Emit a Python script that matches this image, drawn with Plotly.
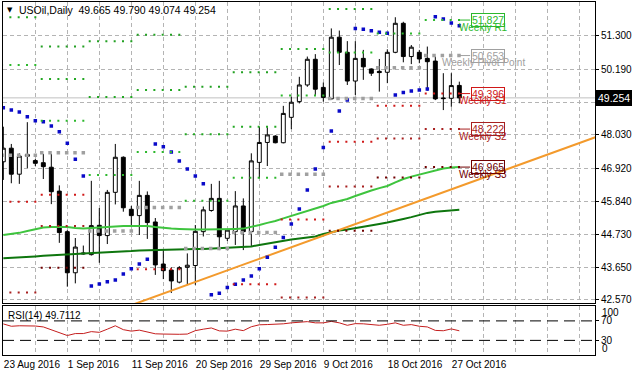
import plotly.graph_objects as go
import pandas as pd

# ---------------- data ----------------
# daily bars (this broker prints Sunday bars, no Saturday bars)
bar_dates = [d for d in pd.date_range("2016-08-23", "2016-10-28", freq="D") if d.weekday() != 5]

opens = [47.14, 47.59, 46.73, 47.38, 47.18, 47.11, 46.96, 46.17, 44.83, 43.47,
         44.09, 44.07, 45.04, 44.70, 46.13, 47.29, 45.57, 45.36, 46.03, 45.15,
         43.76, 43.56, 43.16, 43.65, 43.71, 44.83, 45.53, 45.93, 44.61, 44.83,
         45.68, 44.83, 47.12, 47.78, 47.99, 47.77, 48.61, 49.13, 49.68, 50.53,
         49.60, 49.22, 51.26, 50.76, 49.81, 50.56, 50.21, 50.13, 50.10, 50.76,
         51.72, 50.62, 50.76, 50.56, 50.47, 49.25, 49.24, 49.665]
highs = [48.30, 47.73, 47.42, 48.45, 47.23, 47.40, 47.40, 46.36, 44.88, 44.62,
         44.37, 46.51, 45.61, 46.21, 47.73, 47.32, 45.68, 46.51, 46.16, 45.28,
         44.22, 43.65, 43.69, 44.11, 45.05, 45.66, 46.41, 46.51, 44.92, 46.17,
         45.93, 47.42, 48.30, 48.28, 48.02, 48.99, 49.29, 49.95, 50.62, 50.70,
         49.76, 51.55, 51.48, 51.13, 51.13, 50.84, 50.23, 50.54, 50.86, 51.92,
         51.77, 51.00, 50.84, 50.95, 50.62, 50.07, 50.07, 49.790]
lows = [46.54, 46.43, 46.41, 46.93, 47.00, 46.57, 45.74, 44.46, 43.01, 43.12,
        44.07, 44.04, 43.80, 44.42, 45.73, 45.49, 45.05, 44.72, 44.59, 43.40,
        43.26, 42.80, 43.12, 43.07, 43.07, 44.67, 45.49, 44.22, 44.52, 44.39,
        44.22, 44.33, 46.59, 47.00, 47.75, 47.75, 48.22, 49.07, 49.62, 49.35,
        49.13, 49.21, 50.34, 49.68, 49.35, 49.85, 49.98, 49.46, 49.74, 50.73,
        50.43, 50.37, 50.40, 49.49, 49.18, 48.85, 48.96, 49.074]
closes = [47.59, 46.73, 47.33, 47.32, 47.09, 46.98, 46.15, 44.80, 43.47, 44.32,
          44.12, 45.03, 44.70, 46.13, 47.29, 45.62, 45.36, 46.03, 45.13, 43.73,
          43.54, 43.20, 43.64, 43.72, 44.84, 45.55, 45.93, 44.66, 44.88, 45.68,
          44.83, 47.17, 47.78, 48.03, 47.77, 48.74, 49.11, 49.68, 50.53, 49.54,
          49.27, 51.26, 50.76, 49.81, 50.56, 50.28, 50.07, 50.09, 50.76, 51.72,
          50.62, 50.93, 50.54, 50.45, 49.22, 49.23, 49.66, 49.254]

sar = [48.93, 48.85, 48.79, 48.63, 48.50, 48.46, 48.32, 48.13, 47.75, 47.22,
       46.67, 43.03, 43.10, 43.17, 43.23, 43.43, 43.60, 43.76, 43.92, 47.73,
       47.64, 47.46, 47.17, 46.90, 46.67, 46.41, 42.74, 42.79, 42.98, 43.09,
       43.23, 43.36, 43.60, 43.98, 44.31, 44.64, 45.08, 45.58, 46.21, 46.90,
       47.61, 48.16, 48.82, 49.18, 51.55, 51.52, 51.47, 51.42, 51.39, 49.35,
       49.43, 49.48, 49.51, 49.55, 51.94, 51.86, 51.73, 51.64]

ma_fast = [44.72, 44.75, 44.79, 44.85, 44.92, 44.97, 44.98, 44.98, 44.98, 44.95,
           44.93, 44.95, 44.97, 44.98, 45.00, 45.02, 45.02, 45.02, 45.02, 44.98,
           44.95, 44.93, 44.92, 44.90, 44.90, 44.90, 44.90, 44.92, 44.92, 44.92,
           44.93, 44.98, 45.05, 45.12, 45.18, 45.27, 45.35, 45.43, 45.51, 45.58,
           45.68, 45.78, 45.84, 45.91, 46.01, 46.11, 46.19, 46.27, 46.34, 46.46,
           46.57, 46.65, 46.72, 46.80, 46.87, 46.92, 46.95, 46.97]
ma_slow = [43.95, 43.96, 43.98, 43.99, 44.01, 44.03, 44.04, 44.06, 44.07, 44.09,
           44.11, 44.12, 44.13, 44.14, 44.16, 44.17, 44.19, 44.21, 44.22, 44.22,
           44.23, 44.24, 44.25, 44.25, 44.26, 44.26, 44.27, 44.28, 44.29, 44.30,
           44.31, 44.34, 44.39, 44.44, 44.49, 44.54, 44.57, 44.60, 44.64, 44.67,
           44.75, 44.82, 44.87, 44.90, 44.94, 44.98, 45.03, 45.08, 45.13, 45.18,
           45.25, 45.31, 45.38, 45.45, 45.49, 45.51, 45.53, 45.55]

rsi = [63.8, 59.0, 60.0, 60.0, 59.5, 57.6, 52.0, 46.0, 40.0, 44.0,
       44.0, 48.0, 46.5, 53.0, 60.0, 52.0, 49.0, 51.0, 46.5, 43.5,
       43.0, 42.0, 42.5, 43.0, 50.0, 53.0, 55.5, 49.5, 49.0, 53.0,
       50.0, 58.0, 62.0, 62.5, 62.5, 64.0, 66.0, 68.0, 68.5, 66.0,
       66.0, 69.0, 66.0, 61.0, 64.4, 64.0, 62.0, 61.0, 63.0, 66.0,
       61.0, 62.4, 59.0, 57.6, 50.5, 49.8, 53.5, 49.7112]

# orange trend line (two anchor points: bar index, price)
trend_x = [16, 74]
trend_y = [42.40, 47.95]

# weekly pivot levels (one value per week, None = outside the visible range)
pivot_R3 = [None, 50.95, 51.13, 51.34, 49.62, 50.10, None, None, None, None]
pivot_R2 = [51.92, 49.88, 49.28, 49.51, 48.05, 48.30, 50.87, 52.19, None, None]
pivot_R1 = [50.34, 48.50, 46.70, 47.46, 45.85, 46.61, 49.33, 50.75, 51.38, 51.827]
pivot_PP = [47.36, 47.44, 44.85, 45.63, 44.27, 44.80, 46.73, 49.23, 50.25, 50.653]
pivot_S1 = [45.82, 46.05, None, 43.59, None, 43.09, 45.23, 47.80, 48.99, 49.396]
pivot_S2 = [42.82, 45.02, None, None, None, None, 42.65, 46.32, 47.91, 48.222]
pivot_S3 = [None, 43.64, None, None, None, None, None, 44.86, 46.62, 46.965]

price_ticks = [51.300, 50.190, 49.110, 48.030, 46.920, 45.840, 44.730, 43.650, 42.570]
rsi_levels = [70, 30]
rsi_period = 14
symbol = "USOil,Daily"

# ---------------- derived ----------------
n = len(bar_dates)
xi = list(range(n))
sundays = [i for i, d in enumerate(bar_dates) if d.weekday() == 6]
week_start = [sundays[0] - 6] + sundays
date_text = [f"{d.day} {d.strftime('%b %Y')}" for d in bar_dates]

FONT = "Liberation Sans, Arial, sans-serif"
GRID = "#b4b4b4"
XR = [-0.04, 73.96]

fig = go.Figure()

fig.add_trace(go.Candlestick(
    x=xi, open=opens, high=highs, low=lows, close=closes,
    increasing=dict(line=dict(color="black", width=1), fillcolor="white"),
    decreasing=dict(line=dict(color="black", width=1), fillcolor="black"),
    whiskerwidth=0, showlegend=False, hoverinfo="skip", xaxis="x", yaxis="y"))

fig.add_trace(go.Scatter(x=xi, y=ma_fast, mode="lines", line=dict(color="#3ec43e", width=2),
                         showlegend=False, hoverinfo="skip"))
fig.add_trace(go.Scatter(x=xi, y=ma_slow, mode="lines", line=dict(color="#0e760e", width=2),
                         showlegend=False, hoverinfo="skip"))
fig.add_trace(go.Scatter(x=trend_x, y=trend_y, mode="lines", line=dict(color="#f39a2c", width=2),
                         showlegend=False, hoverinfo="skip"))
fig.add_trace(go.Scatter(x=xi, y=sar, mode="markers",
                         marker=dict(symbol="square", size=3.5, color="#0a0ac8", line=dict(width=0)),
                         showlegend=False, hoverinfo="skip"))

levels = [
    (pivot_R3, "#22a022", 2, None),
    (pivot_R2, "#22a822", 2, None),
    (pivot_R1, "#2cb82c", 2, "Weekly R1"),
    (pivot_PP, "#a0a0a0", 3.5, "Weekly Pivot Point"),
    (pivot_S1, "#d01818", 2, "Weekly S1"),
    (pivot_S2, "#a82020", 2, "Weekly S2"),
    (pivot_S3, "#700000", 2, "Weekly S3"),
]
last_week = len(week_start) - 1
for vals, col, sz, name in levels:
    px, py = [], []
    for w, v in enumerate(vals):
        if v is None:
            continue
        ndots = 5 if w == last_week else 6
        for k in range(ndots):
            px.append(week_start[w] + 0.8 + k * 1.04)
            py.append(v)
    fig.add_trace(go.Scatter(x=px, y=py, mode="markers",
                             marker=dict(symbol="square", size=sz, color=col, line=dict(width=0)),
                             showlegend=False, hoverinfo="skip"))
    v = vals[last_week]
    if name is not None and v is not None:
        fig.add_trace(go.Scatter(x=[n - 1, n + 0.35], y=[v, v], mode="lines",
                                 line=dict(color=col, width=1), showlegend=False, hoverinfo="skip"))
        fig.add_annotation(x=n + 2.6, y=v, xref="x", yref="y", text=f"{v:.3f}", showarrow=False,
                           font=dict(family=FONT, size=10.5, color=col), bordercolor=col,
                           borderwidth=1, borderpad=0, bgcolor="rgba(255,255,255,0)",
                           xanchor="center", yanchor="middle")
        fig.add_annotation(x=n + 2.0, y=v, xref="x", yref="y", text=name, showarrow=False,
                           font=dict(family=FONT, size=10, color=col), xanchor="center",
                           yanchor="middle", yshift=-7)

# RSI
fig.add_trace(go.Scatter(x=xi, y=rsi, mode="lines", line=dict(color="#c41e1e", width=1),
                         xaxis="x2", yaxis="y2", showlegend=False, hoverinfo="skip"))

shapes = [dict(type="line", xref="x domain", yref="y", x0=0, x1=1, y0=closes[-1], y1=closes[-1],
               line=dict(color="#c0c0c0", width=1), layer="below")]
for lv in rsi_levels:
    shapes.append(dict(type="line", xref="x2 domain", yref="y2", x0=0, x1=1, y0=lv, y1=lv,
                       line=dict(color="black", width=1, dash="11px,6px")))

grid_vals = list(range(0, 76, 4))
grid_text = [date_text[v] if (v % 8 == 0 and v < n) else "" for v in grid_vals]

fig.update_layout(
    width=635, height=376, margin=dict(l=3, r=40, t=2, b=21),
    paper_bgcolor="white", plot_bgcolor="white", showlegend=False,
    font=dict(family=FONT, size=10, color="black"),
    shapes=shapes,
    xaxis=dict(domain=[0, 1], range=XR, anchor="y", tickmode="array", tickvals=grid_vals,
               showticklabels=False, ticks="", showgrid=True, gridcolor=GRID, griddash="4px,3px",
               gridwidth=1, showline=True, mirror=True, linecolor="black", linewidth=1,
               zeroline=False, rangeslider=dict(visible=False), fixedrange=True),
    yaxis=dict(domain=[0.1459, 1], range=[42.454, 52.424], anchor="x", side="right",
               tickmode="array", tickvals=price_ticks, ticktext=[f"{v:.3f}" for v in price_ticks],
               showgrid=True, gridcolor=GRID, griddash="4px,3px", gridwidth=1,
               showline=True, mirror=True, linecolor="black", linewidth=1,
               ticks="outside", ticklen=3, tickcolor="black", zeroline=False,
               tickfont=dict(family=FONT, size=10, color="black")),
    xaxis2=dict(domain=[0, 1], range=XR, anchor="y2", tickmode="array", tickvals=grid_vals,
                ticktext=grid_text, ticklabelposition="outside right", ticks="", tickangle=0,
                showgrid=True, gridcolor=GRID, griddash="4px,3px", gridwidth=1,
                showline=True, mirror=True, linecolor="black", linewidth=1, zeroline=False,
                tickfont=dict(family=FONT, size=10, color="black")),
    yaxis2=dict(domain=[0, 0.138], range=[0, 100], anchor="x2", side="right",
                tickmode="array", tickvals=rsi_levels, ticktext=[str(v) for v in rsi_levels],
                showgrid=False, showline=True, mirror=True, linecolor="black", linewidth=1,
                ticks="outside", ticklen=3, tickcolor="black", zeroline=False,
                tickfont=dict(family=FONT, size=10, color="black")),
)

# RSI 100 / 0 labels (drawn inside the window like the terminal does)
fig.add_annotation(xref="paper", yref="y2", x=1.0, y=100, text="100", showarrow=False,
                   xanchor="left", yanchor="middle", xshift=5, yshift=-6,
                   font=dict(family=FONT, size=10, color="black"))
fig.add_annotation(xref="paper", yref="y2", x=1.0, y=0, text="0", showarrow=False,
                   xanchor="left", yanchor="middle", xshift=5, yshift=6,
                   font=dict(family=FONT, size=10, color="black"))

# current price label
fig.add_annotation(xref="paper", yref="y", x=1.0, y=closes[-1], text=f"{closes[-1]:.3f}",
                   showarrow=False, xanchor="left", yanchor="middle", xshift=1,
                   bgcolor="black", bordercolor="black", borderpad=1,
                   font=dict(family=FONT, size=10.5, color="white"))

# title line
fig.add_annotation(xref="paper", yref="paper", x=0.0, y=0.978, text="▼", showarrow=False,
                   xanchor="left", yanchor="middle", xshift=2, font=dict(family="DejaVu Sans", size=7, color="black"))
fig.add_annotation(xref="paper", yref="paper", x=0.0, y=0.977,
                   text=f"{symbol}  {opens[-1]:.3f} {highs[-1]:.3f} {lows[-1]:.3f} {closes[-1]:.3f}",
                   showarrow=False, xanchor="left", yanchor="middle", xshift=14,
                   font=dict(family=FONT, size=10.5, color="black"))

# RSI caption
fig.add_annotation(xref="paper", yref="y2", x=0.0, y=100, text=f"RSI({rsi_period}) {rsi[-1]:.4f}",
                   showarrow=False, xanchor="left", yanchor="middle", xshift=3, yshift=-9,
                   font=dict(family=FONT, size=10, color="black"))

fig.write_html("out.html", config={"displayModeBar": False},
               post_script="document.body.style.margin='0px';")
